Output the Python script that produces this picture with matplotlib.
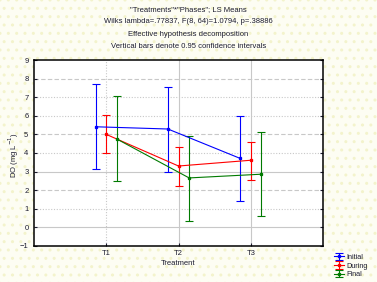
import matplotlib
matplotlib.use("Agg")
import matplotlib.pyplot as plt
from matplotlib.patches import Rectangle
import numpy as np

# ── Data ──────────────────────────────────────────────────────────────────────
treatments = ["T1", "T2", "T3"]
phases = ["Initial", "During", "Final"]

initial_mean = [5.41, 5.29, 3.71]
initial_low = [3.14, 2.98, 1.43]
initial_high = [7.70, 7.54, 5.98]

during_mean = [5.00, 3.30, 3.61]
during_low = [4.00, 2.23, 2.55]
during_high = [6.02, 4.32, 4.59]

final_mean = [4.75, 2.66, 2.86]
final_low = [2.50, 0.36, 0.59]
final_high = [7.05, 4.91, 5.13]

title_lines = [
    '"Treatments"*"Phases"; LS Means',
    "Wilks lambda=.77837, F(8, 64)=1.0794, p=.38886",
    "Effective hypothesis decomposition",
    "Vertical bars denote 0.95 confidence intervals",
]

# ── Style ─────────────────────────────────────────────────────────────────────
plt.rcParams.update({
    "font.family": ["Liberation Sans", "DejaVu Sans"],
    "font.size": 5.5,
})
TXT = "#1c1c30"
GRID = "#c8c8c8"
BG = "#fdfdf3"

fig = plt.figure(figsize=(3.77, 2.82), dpi=100, facecolor=BG)
# faint dotted Statistica-like backdrop
fig.patches.append(Rectangle((0, 0), 1, 1, transform=fig.transFigure,
                             facecolor="none", edgecolor="#f3f3cc",
                             hatch="..", linewidth=0, zorder=-10))

ax = fig.add_axes([0.0902, 0.1277, 0.7666, 0.6595])
ax.set_facecolor("white")

x = np.arange(1, len(treatments) + 1)
offsets = [-0.147, 0.0, 0.147]
series = [
    ("Initial", "#0000ff", initial_mean, initial_low, initial_high),
    ("During", "#ff0000", during_mean, during_low, during_high),
    ("Final", "#007a00", final_mean, final_low, final_high),
]

handles = []
for (name, col, m, lo, hi), off in zip(series, offsets):
    m = np.array(m)
    yerr = [m - np.array(lo), np.array(hi) - m]
    h = ax.errorbar(x + off, m, yerr=yerr, color=col, lw=0.8,
                    elinewidth=0.8, capsize=2.8, capthick=0.8,
                    marker="s", markersize=1.4, label=name, zorder=3)
    handles.append(h)

# grid lines
for yv in range(0, 9):
    ls = "-" if yv in (0, 3) else ((0, (4, 2)) if yv in (2, 5, 8) else (0, (1, 1.5)))
    ax.axhline(yv, color=GRID, lw=0.8, ls=ls, zorder=1)
for i, xv in enumerate(x):
    ax.axvline(xv, color=GRID, lw=0.8, ls=(0, (1, 1.5)) if i == 0 else "-", zorder=1)

ax.set_xlim(0, 4)
ax.set_ylim(-1, 9)
ax.set_xticks(x)
ax.set_xticklabels(treatments, color=TXT)
ax.set_yticks(range(-1, 10))
ax.tick_params(axis="y", length=0, pad=4, colors=TXT, labelsize=5.5)
ax.tick_params(axis="x", length=2, direction="in", pad=3, colors=TXT, labelsize=5.5)
ax.tick_params(axis="y", which="both", right=True, direction="in", length=2)
for s in ax.spines.values():
    s.set_linewidth(1.1)
    s.set_color("black")

ax.set_xlabel("Treatment", color=TXT, labelpad=2)
ax.set_ylabel("DO (mg L$^{-1}$)", color=TXT)
ax.yaxis.set_label_coords(-0.045, 0.49)

for i, line in enumerate(title_lines):
    fig.text(0.5, 1 - (9.5 + 12.4 * i) / 282, line, ha="center", va="center",
             color=TXT, fontsize=5.5)

leg = fig.legend(handles=handles, labels=phases, loc="upper left",
                 bbox_to_anchor=(330 / 377, 1 - 250 / 282), frameon=False,
                 fontsize=5.2, handlelength=1.4, handletextpad=0.3,
                 labelspacing=0.25, borderpad=0, labelcolor=TXT)

fig.savefig("out.png", dpi=100, facecolor=BG)
